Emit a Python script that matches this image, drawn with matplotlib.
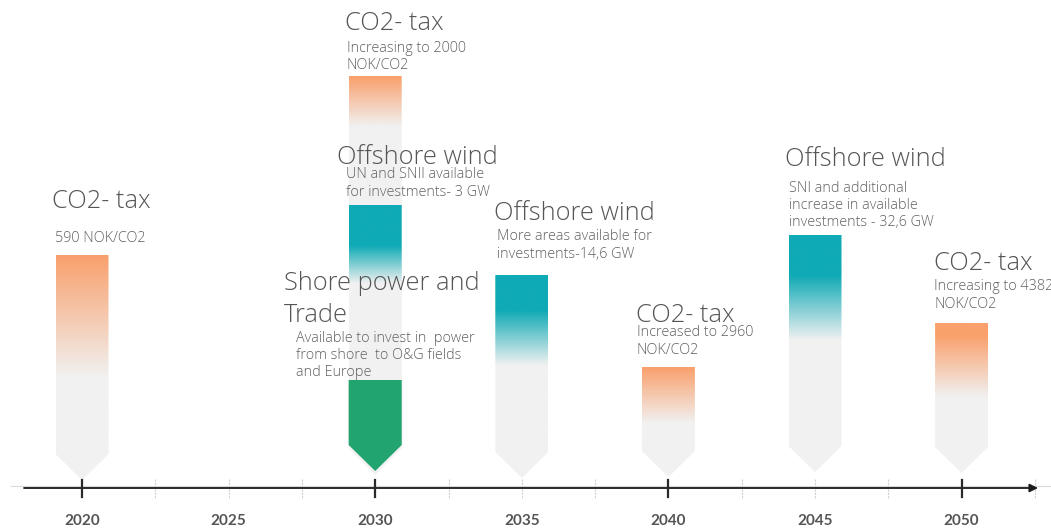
import matplotlib
matplotlib.use("Agg")
import matplotlib.pyplot as plt
import numpy as np
from matplotlib.colors import to_rgba
from matplotlib.patches import Polygon

# timeline events (y measured in pixels from the top of the canvas)
years = [2020, 2030, 2030, 2030, 2035, 2040, 2045, 2050]
kinds = ["co2", "co2", "wind", "shore", "wind", "co2", "wind", "co2"]
bar_tops = [255, 76, 205, 380, 275, 367, 235, 323]
tips = [480, 474, 474, 471, 478, 477, 472, 473]

titles = ["CO2- tax", "CO2- tax", "Offshore wind", "Shore power and\nTrade",
          "Offshore wind", "CO2- tax", "Offshore wind", "CO2- tax"]
notes = ["590 NOK/CO2",
         "Increasing to 2000\nNOK/CO2",
         "UN and SNII available\nfor investments- 3 GW",
         "Available to invest in  power\nfrom shore  to O&G fields\nand Europe",
         "More areas available for\ninvestments-14,6 GW",
         "Increased to 2960\nNOK/CO2",
         "SNI and additional\nincrease in available\ninvestments - 32,6 GW",
         "Increasing to 4382\nNOK/CO2"]

tick_years = [2020, 2025, 2030, 2035, 2040, 2045, 2050]

# label anchors: (left x px, first-line centre y px)
title_pos = [(52, 201), (345, 24), (337, 157), (284, 284),
             (494, 214), (636, 316), (785, 160), (934, 264)]
note_pos = [(55, 238), (347, 48), (346, 175), (296, 338),
            (497, 237), (637, 333), (789, 188), (934, 287)]
# (solid run, fade length) in px from the top of each bar
fades = [(0, 122), (0, 50), (40, 38), (0, 0), (35, 55), (0, 56), (40, 65), (12, 62)]

W, H = 1051, 528
PX_PER_YEAR = 29.32
X0 = 2020 - 82 / PX_PER_YEAR

COLORS = {"co2": "#F9A06C", "wind": "#0FAAB5", "shore": "#22A46F"}
GREY = "#F1F1F1"

fig = plt.figure(figsize=(W / 100, H / 100), dpi=100)
ax = fig.add_axes([0, 0, 1, 1])
ax.axis("off")


def px(x):
    return X0 + x / PX_PER_YEAR


half = 26.5 / PX_PER_YEAR
shoulder = 26

for yr, kind, top, tip, (solid, fade) in zip(years, kinds, bar_tops, tips, fades):
    verts = [(yr - half, top), (yr + half, top), (yr + half, tip - shoulder),
             (yr, tip), (yr - half, tip - shoulder)]
    if kind == "shore":
        # faint grey halo under the solid green arrow
        halo = [(yr - half - 0.03, top), (yr + half + 0.03, top),
                (yr + half + 0.03, tip - shoulder), (yr, tip + 4),
                (yr - half - 0.03, tip - shoulder)]
        ax.add_patch(Polygon(halo, closed=True, fc=GREY, ec="none", zorder=2))
        ax.add_patch(Polygon(verts, closed=True, fc=COLORS[kind], ec="none", zorder=3))
        continue
    poly = Polygon(verts, closed=True, fc="none", ec="none", zorder=2)
    ax.add_patch(poly)
    n = int(tip - top) + 1
    ys = np.arange(n)
    t = np.clip((ys - solid) / max(fade, 1), 0, 1)
    c0 = np.array(to_rgba(COLORS[kind]))
    c1 = np.array(to_rgba(GREY))
    grad = (1 - t)[:, None] * c0 + t[:, None] * c1
    img = ax.imshow(grad[:, None, :], extent=(yr - half, yr + half, tip, top),
                    aspect="auto", interpolation="bilinear", zorder=2)
    img.set_clip_path(poly)

ax.set_xlim(X0, X0 + W / PX_PER_YEAR)
ax.set_ylim(H, 0)

# axis line with arrow head
ax.plot([px(11), px(1051)], [486, 486], color="#D9D9D9", lw=0.8, zorder=1)
ax.annotate("", xy=(px(1038), 488), xytext=(px(24), 488),
            arrowprops=dict(arrowstyle="-|>", color="#1A1A1A", lw=1.3,
                            mutation_scale=12, shrinkA=0, shrinkB=0), zorder=4)

for m in np.arange(2020, 2053, 2.5):
    if m % 10 == 0:
        ax.plot([m, m], [480, 497], color="#2A2A2A", lw=1.6, zorder=5)
    else:
        ax.plot([m, m], [479, 498], color="#D0D0D0", lw=0.8, ls=(0, (2, 1)), zorder=1)

for yr in tick_years:
    ax.text(yr, 521, str(yr), ha="center", va="center", fontsize=11,
            family="Lato", weight="bold", color="#555555")


def lines(x, y, text, step, **kw):
    for i, line in enumerate(text.split("\n")):
        ax.text(px(x), y + i * step, line, ha="left", va="center",
                family="Open Sans", weight="light", zorder=6, **kw)


for (tx, ty), (nx, ny), title, note in zip(title_pos, note_pos, titles, notes):
    lines(tx, ty, title, 31, fontsize=18.3, color="#555555")
    lines(nx, ny, note, 17.5, fontsize=10.4, color="#606060")

fig.savefig("out.png", dpi=100)
